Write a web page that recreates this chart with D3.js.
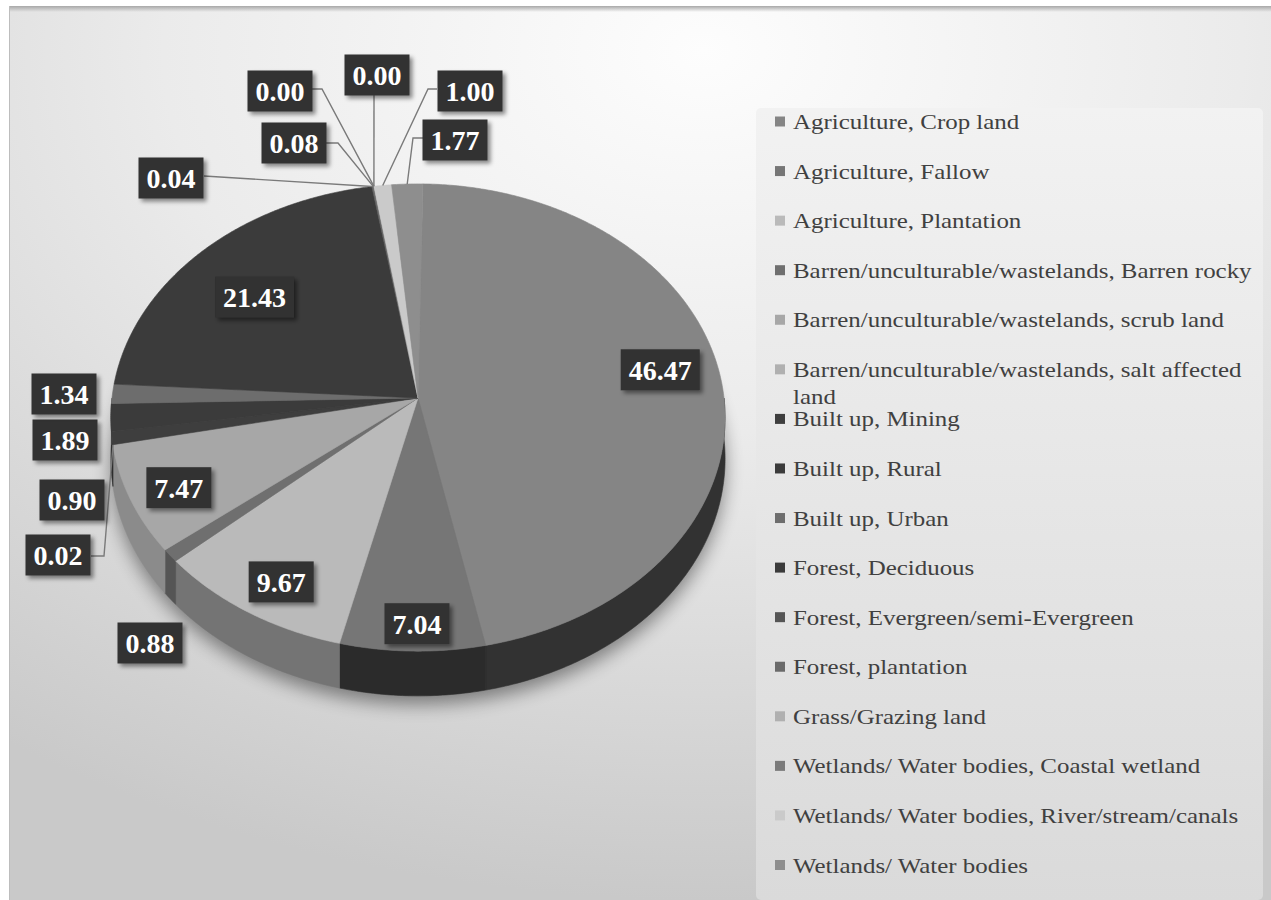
<!DOCTYPE html>
<html>
<head>
<meta charset="utf-8">
<script src="https://cdn.jsdelivr.net/npm/d3@7"></script>
<style>
  body { margin: 0; background: #ffffff; }
  svg { display: block; }
</style>
</head>
<body>
<svg id="chart" width="1271" height="900"></svg>
<script>
// Land use / land cover shares (%) in legend order
const categories = [
  "Agriculture, Crop land",
  "Agriculture, Fallow",
  "Agriculture, Plantation",
  "Barren/unculturable/wastelands, Barren rocky",
  "Barren/unculturable/wastelands, scrub land",
  "Barren/unculturable/wastelands, salt affected land",
  "Built up, Mining",
  "Built up, Rural",
  "Built up, Urban",
  "Forest, Deciduous",
  "Forest, Evergreen/semi-Evergreen",
  "Forest, plantation",
  "Grass/Grazing land",
  "Wetlands/ Water bodies, Coastal wetland",
  "Wetlands/ Water bodies, River/stream/canals",
  "Wetlands/ Water bodies"
];
const values = [46.47, 7.04, 9.67, 0.88, 7.47, 0.02, 0.90, 1.89, 1.34, 21.43, 0.04, 0.08, 0.00, 0.00, 1.00, 1.77];

// Grey shades for the top faces and the darker rim walls
const topShades  = ["#858585", "#767676", "#bababa", "#6f6f6f", "#a7a7a7", "#b0b0b0", "#3e3e3e", "#3b3b3b",
                    "#6d6d6d", "#3b3b3b", "#555555", "#6a6a6a", "#b0b0b0", "#7a7a7a", "#cacaca", "#8e8e8e"];
const sideShades = ["#323232", "#2b2b2b", "#747474", "#555555", "#8b8b8b", "#909090", "#2e2e2e", "#2e2e2e",
                    "#4a4a4a", "#2c2c2c", "#3a3a3a", "#4a4a4a", "#8a8a8a", "#555555", "#9a9a9a", "#666666"];

// Value label placement: inside labels sit on the slice centroid ring,
// outside labels sit in boxes with optional leader lines
const labelLayout = [
  { inside: 0.8, nudge: [0, -11] },
  { inside: 0.9, nudge: [4, 0] },
  { inside: 0.85, nudge: [6, 4] },
  { at: [150, 643] },
  { inside: 0.85, nudge: [4, 4] },
  { at: [58, 555], elbow: [[91, 556], [104, 556]] },
  { at: [72, 500] },
  { at: [65, 440] },
  { at: [64, 394] },
  { inside: 0.73, nudge: [-4, 8] },
  { at: [171, 178], elbow: [[204, 176]] },
  { at: [294, 143], elbow: [[326, 143], [338, 143]] },
  { at: [280, 91], elbow: [[312, 89], [322, 89]] },
  { at: [377, 75], elbow: [[374, 95]] },
  { at: [470, 91], elbow: [[437, 89], [428, 89]] },
  { at: [455, 140], elbow: [[423, 138], [413, 138]] }
];

// Pie geometry (perspective disc)
const CX = 418, CY = 398, RX = 306, RY = 232, P = 0.0835, H = 41;
const START = 1 * Math.PI / 180;

function proj(theta, r, depth) {
  const u = r * Math.sin(theta), v = r * Math.cos(theta);
  const k = 1 / (1 + P * v);
  return [CX + RX * u * k, CY - RY * v * k + depth * k];
}
function rimPoints(a0, a1, r, depth) {
  const n = Math.max(2, Math.ceil(Math.abs(a1 - a0) / (Math.PI / 360)) + 1);
  return d3.range(n).map(i => proj(a0 + (a1 - a0) * i / (n - 1), r, depth));
}

const svg = d3.select("#chart");
const defs = svg.append("defs");

// Backdrop gradients
const bg = defs.append("radialGradient").attr("id", "bg")
  .attr("cx", 0.55).attr("cy", 0.05).attr("r", 0.95);
bg.append("stop").attr("offset", "0%").attr("stop-color", "#fdfdfd");
bg.append("stop").attr("offset", "45%").attr("stop-color", "#ebebeb");
bg.append("stop").attr("offset", "100%").attr("stop-color", "#c9c9c9");

const legBg = defs.append("linearGradient").attr("id", "legbg")
  .attr("x1", 0).attr("y1", 0).attr("x2", 0).attr("y2", 1);
legBg.append("stop").attr("offset", "0%").attr("stop-color", "#f2f2f2");
legBg.append("stop").attr("offset", "100%").attr("stop-color", "#dadada");

const topEdge = defs.append("linearGradient").attr("id", "topedge")
  .attr("x1", 0).attr("y1", 0).attr("x2", 0).attr("y2", 1);
topEdge.append("stop").attr("offset", "0%").attr("stop-color", "#a8a8a8");
topEdge.append("stop").attr("offset", "100%").attr("stop-color", "#a8a8a8").attr("stop-opacity", 0);

const blur = defs.append("filter").attr("id", "pieShadow")
  .attr("x", "-20%").attr("y", "-20%").attr("width", "140%").attr("height", "140%");
blur.append("feGaussianBlur").attr("stdDeviation", 9);

const boxShadow = defs.append("filter").attr("id", "boxShadow")
  .attr("x", "-30%").attr("y", "-30%").attr("width", "160%").attr("height", "160%");
boxShadow.append("feDropShadow").attr("dx", 3).attr("dy", 3).attr("stdDeviation", 2)
  .attr("flood-color", "#000").attr("flood-opacity", 0.45);

// Backdrop
svg.append("rect").attr("x", 9).attr("y", 6).attr("width", 1262).attr("height", 894).attr("fill", "url(#bg)");
svg.append("rect").attr("x", 9).attr("y", 6).attr("width", 1262).attr("height", 6).attr("fill", "url(#topedge)");
svg.append("line").attr("x1", 9.5).attr("x2", 9.5).attr("y1", 6).attr("y2", 900)
  .attr("stroke", "#bdbdbd").attr("stroke-width", 1);
svg.append("rect").attr("x", 756).attr("y", 108).attr("width", 507).attr("height", 792)
  .attr("rx", 5).attr("fill", "url(#legbg)");

// Pie
const pie = d3.pie().sort(null).value(d => d).startAngle(START).endAngle(START + 2 * Math.PI);
const arcs = pie(values);
const color = d3.scaleOrdinal().domain(categories).range(topShades);
const sideColor = d3.scaleOrdinal().domain(categories).range(sideShades);
const line = d3.line();

const pieG = svg.append("g");

// soft drop shadow beneath the disc
pieG.append("path")
  .attr("d", line(rimPoints(0, 2 * Math.PI, 1.0, H + 8)) + "Z")
  .attr("fill", "#000").attr("opacity", 0.42)
  .attr("filter", "url(#pieShadow)");

// front rim walls
arcs.forEach((a, i) => {
  const b0 = Math.max(a.startAngle, Math.PI / 2), b1 = Math.min(a.endAngle, 3 * Math.PI / 2);
  if (b1 - b0 <= 1e-6) return;
  const pts = rimPoints(b0, b1, 1, 0).concat(rimPoints(b1, b0, 1, H));
  pieG.append("path").attr("d", line(pts) + "Z")
    .attr("fill", sideColor(categories[i]))
    .attr("stroke", sideColor(categories[i])).attr("stroke-width", 0.6);
});

// top faces
arcs.forEach((a, i) => {
  if (a.endAngle - a.startAngle <= 1e-6) return;
  const pts = [proj(0, 0, 0)].concat(rimPoints(a.startAngle, a.endAngle, 1, 0));
  pieG.append("path").attr("d", line(pts) + "Z")
    .attr("fill", color(categories[i]))
    .attr("stroke", color(categories[i])).attr("stroke-width", 0.6)
    .attr("stroke-linejoin", "round");
});

// Value labels
const fmt = d3.format(".2f");
const labelG = svg.append("g");

arcs.forEach((a, i) => {
  const lay = labelLayout[i];
  const mid = (a.startAngle + a.endAngle) / 2;
  let cx, cy;
  if (lay.inside !== undefined) {
    const p = proj(mid, lay.inside, 0);
    cx = p[0] + lay.nudge[0]; cy = p[1] + lay.nudge[1];
  } else {
    [cx, cy] = lay.at;
    if (lay.elbow) {
      const anchor = proj(mid, 1, 0);
      labelG.append("path")
        .attr("d", line(lay.elbow.concat([anchor])))
        .attr("fill", "none").attr("stroke", "#7a7a7a").attr("stroke-width", 1.4);
    }
  }
  const g = labelG.append("g").attr("transform", `translate(${cx},${cy})`);
  const rect = g.append("rect").attr("fill", "#303030").attr("filter", "url(#boxShadow)");
  const t = g.append("text")
    .attr("text-anchor", "middle").attr("dy", "0.35em")
    .attr("font-family", "'Liberation Serif', 'Times New Roman', serif")
    .attr("font-weight", "bold").attr("font-size", 28)
    .attr("fill", "#ffffff")
    .text(fmt(values[i]));
  const w = t.node().getComputedTextLength() + 16, h = 41;
  rect.attr("x", -w / 2).attr("y", -h / 2).attr("width", w).attr("height", h);
});

// Legend
const legendY = d3.scaleLinear().domain([0, categories.length - 1]).range([122, 865.5]);
const legendG = svg.append("g");
const SX = 1.187, maxW = 466;

categories.forEach((c, i) => {
  const y = legendY(i);
  legendG.append("rect").attr("x", 775).attr("y", y - 5.5).attr("width", 10).attr("height", 10)
    .attr("fill", color(c));
  const tg = legendG.append("g").attr("transform", `translate(793,${y + 7}) scale(${SX},1)`);
  const text = tg.append("text")
    .attr("font-family", "'Liberation Serif', 'Times New Roman', serif")
    .attr("font-size", 21).attr("fill", "#404040");
  // wrap words onto a second line when the entry is too wide
  const words = c.split(" ");
  let lineWords = [], lineNo = 0;
  let tspan = text.append("tspan").attr("x", 0).attr("dy", 0);
  words.forEach(wd => {
    lineWords.push(wd);
    tspan.text(lineWords.join(" "));
    if (tspan.node().getComputedTextLength() * SX > maxW && lineWords.length > 1) {
      lineWords.pop();
      tspan.text(lineWords.join(" "));
      lineWords = [wd];
      lineNo++;
      tspan = text.append("tspan").attr("x", 0).attr("dy", 27).text(wd);
    }
  });
});
</script>
</body>
</html>
